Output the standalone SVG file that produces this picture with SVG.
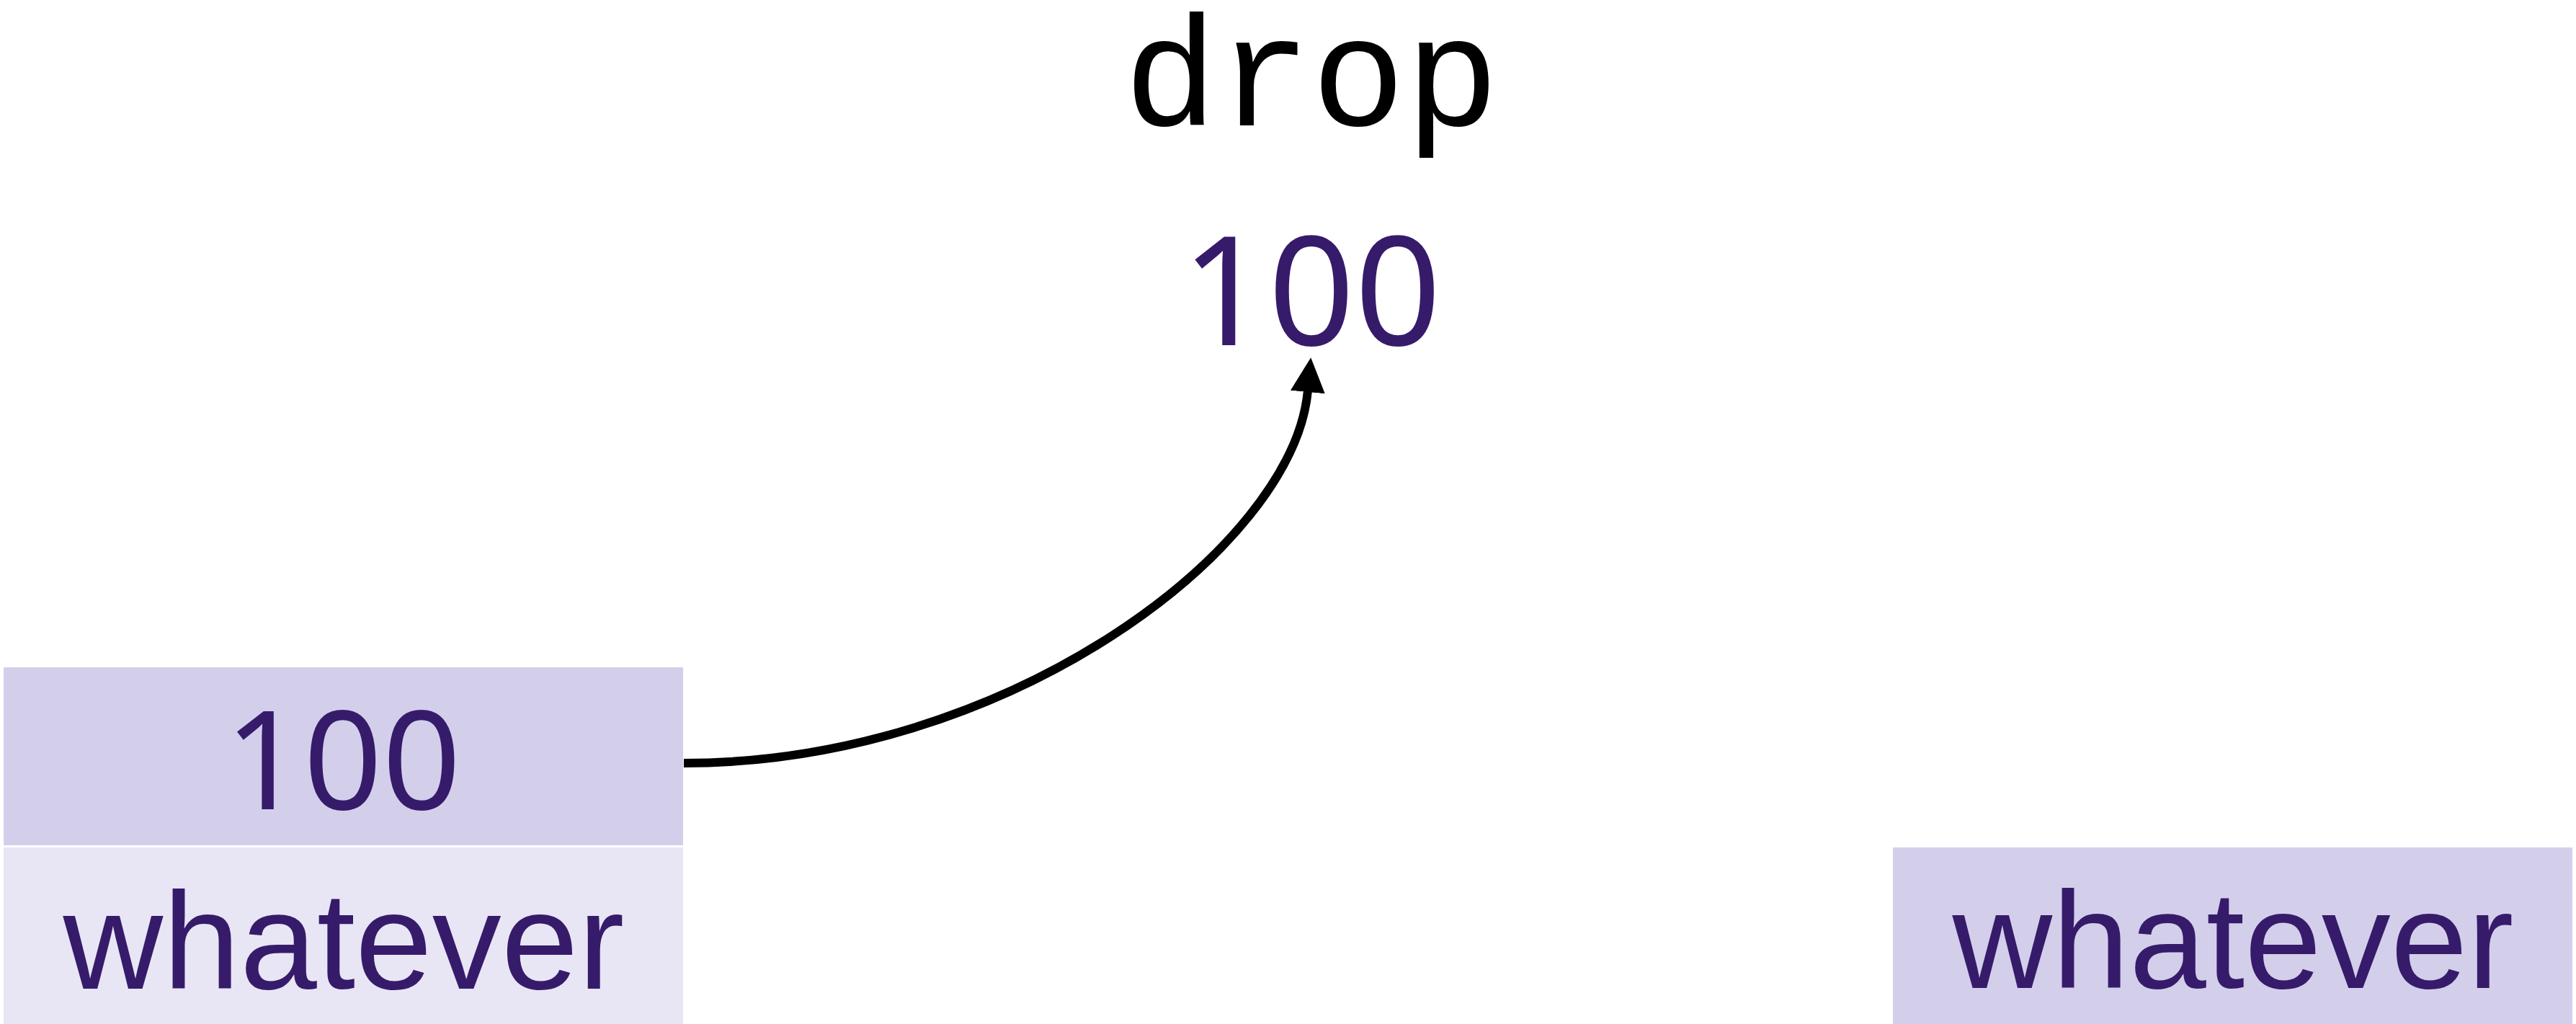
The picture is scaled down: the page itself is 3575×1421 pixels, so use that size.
<svg xmlns="http://www.w3.org/2000/svg" width="3575" height="1421" viewBox="0 0 3575 1421">
<style>
.sans{font-family:"Liberation Sans",Arial,sans-serif;text-anchor:middle}
.num{font-family:"Noto Sans","Liberation Sans",Arial,sans-serif;text-anchor:middle}
.val{fill:#361b6b}
.box1{fill:#d3cfeb}
.box2{fill:#e8e6f4}
.conn{fill:none;stroke:#000;stroke-width:12}
</style>
<defs>
<marker id="ah" markerUnits="userSpaceOnUse" markerWidth="48" markerHeight="48" viewBox="0 0 48 48" refX="2" refY="24" orient="auto">
<path d="M0,0 L48,24 L0,48 z" fill="#000"/>
</marker>
</defs>
<rect width="3575" height="1421" fill="#fff"/>
<g id="title">
<text x="1820" y="174" font-family="'Liberation Mono',monospace" font-size="217" text-anchor="middle" fill="#000">drop</text>
</g>
<g id="drop-value">
<text class="num val" x="1820" y="479" font-size="210">100</text>
</g>
<g id="left-value">
<rect class="box1" x="5" y="926" width="943" height="247"/>
<text class="num val" x="476" y="1123" font-size="191">100</text>
</g>
<g id="left-whatever">
<rect class="box2" x="5" y="1176" width="943" height="245"/>
<text class="sans val" x="477" y="1372" font-size="192">whatever</text>
</g>
<g id="right-whatever">
<rect class="box1" x="2627" y="1176" width="943" height="245"/>
<text class="sans val" x="3099" y="1371" font-size="192">whatever</text>
</g>
<g id="connectors">
<path class="conn" d="M949,1059 C1399,1059 1795,760 1815,542" marker-end="url(#ah)"/>
</g>
</svg>
